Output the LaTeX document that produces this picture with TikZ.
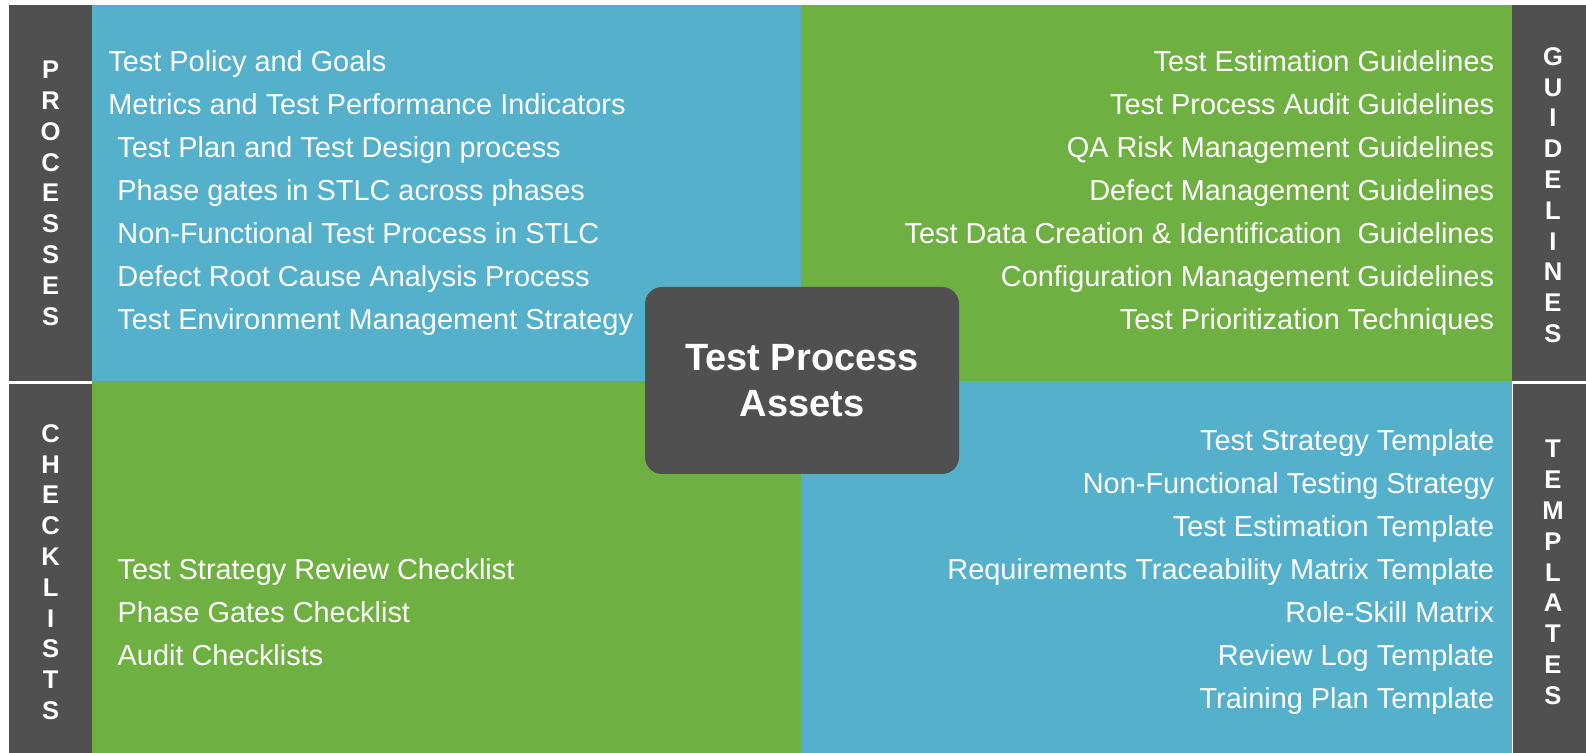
\documentclass[tikz,border=0pt]{standalone}
\usepackage{fontspec}
\setmainfont{Liberation Sans}
\usepackage{xcolor}
\usepackage{tikz}
\usetikzlibrary{positioning}
\definecolor{assetblue}{RGB}{84,176,203}
\definecolor{assetgreen}{RGB}{111,176,67}
\definecolor{assetgray}{RGB}{80,80,80}

\begin{document}
\begin{tikzpicture}[x=0.5pt,y=-0.5pt]
	\tikzstyle{item}=[text=white,inner sep=0pt,font=\fontsize{14.45}{17}\selectfont]
	\tikzstyle{side}=[text=white,inner sep=0pt,align=center,font=\bfseries\fontsize{12.8}{15.4}\selectfont]
	\tikzstyle{hub}=[fill=assetgray,text=white,rounded corners=8.5pt,align=center,minimum width=157pt,minimum height=93.5pt,font=\bfseries\fontsize{19}{23}\selectfont]
	\path[use as bounding box,fill=white] (0,0) rectangle (1586,753);
	% four quadrants
	\fill[assetblue] (92,5.5) rectangle (801,381);
	\fill[assetgreen] (801,5.5) rectangle (1512,381);
	\fill[assetgreen] (92,381) rectangle (801,753);
	\fill[assetblue] (801,381) rectangle (1512,753);
	% side bars
	\fill[assetgray] (9,5.5) rectangle (92,381.5);
	\fill[assetgray] (9,384.5) rectangle (92,753);
	\fill[assetgray] (1512,5.5) rectangle (1586,381);
	\fill[assetgray] (1512,384) rectangle (1586,753);
	\draw[white,line width=0.5pt] (1512,384) -- (1512,753);
	\node[side](processes) at (50.6,193.3) {P\\R\\O\\C\\E\\S\\S\\E\\S};
	\node[side](checklists) at (50.6,572) {C\\H\\E\\C\\K\\L\\I\\S\\T\\S};
	\node[side](guidelines) at (1553,195) {G\\U\\I\\D\\E\\L\\I\\N\\E\\S};
	\node[side](templates) at (1553,572.5) {T\\E\\M\\P\\L\\A\\T\\E\\S};
	% lists
	\foreach \x/\t [count=\i from 0] in {108/Test Policy and Goals,108/Metrics and Test Performance Indicators,117/Test Plan and Test Design process,117/Phase gates in STLC across phases,117/Non-Functional Test Process in STLC,117/Defect Root Cause Analysis Process,117/Test Environment Management Strategy}
		\node[item,anchor=base west](proc\i) at (\x,71.7+43.05*\i) {\t};
	\foreach \t [count=\i from 0] in {Test Estimation Guidelines,Test Process Audit Guidelines,QA Risk Management Guidelines,Defect Management Guidelines,Test Data Creation \& Identification\ \ Guidelines,Configuration Management Guidelines,Test Prioritization Techniques}
		\node[item,anchor=base east](guide\i) at (1494.5,71.7+43.05*\i) {\t};
	\foreach \t [count=\i from 0] in {Test Strategy Review Checklist,Phase Gates Checklist,Audit Checklists}
		\node[item,anchor=base west](check\i) at (117.3,579.3+43*\i) {\t};
	\foreach \t [count=\i from 0] in {Test Strategy Template,Non-Functional Testing Strategy,Test Estimation Template,Requirements Traceability Matrix Template,Role-Skill Matrix,Review Log Template,Training Plan Template}
		\node[item,anchor=base east](tmpl\i) at (1494.5,450.3+43*\i) {\t};
	\node[hub](assets) at (802,380.5) {Test Process\\Assets};
\end{tikzpicture}
\end{document}
